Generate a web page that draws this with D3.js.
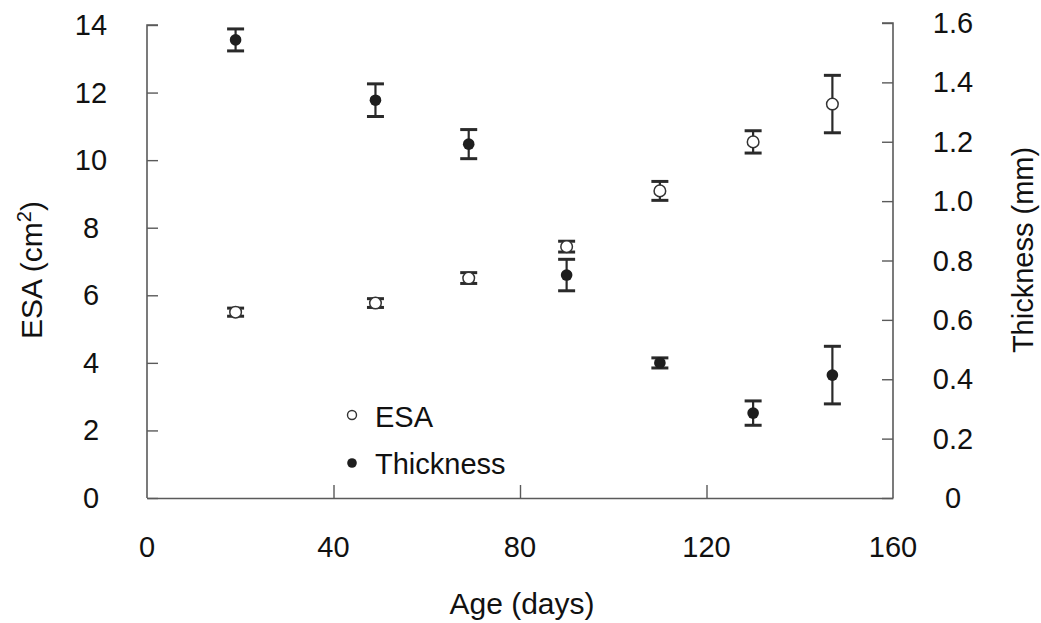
<!DOCTYPE html>
<html>
<head>
<meta charset="utf-8">
<script src="https://cdn.jsdelivr.net/npm/d3@7"></script>
<style>
  html, body { margin: 0; padding: 0; background: #fff; }
  svg text { font-family: "Liberation Sans", Arial, sans-serif; fill: #111; }
</style>
</head>
<body>
<svg id="chart" width="1041" height="623"></svg>
<script>
// Age of sampling (days)
const ages = [19, 49, 69, 90, 110, 130, 147];
// Effective surface area, cm^2 (mean and error)
const esa = [5.50, 5.77, 6.51, 7.44, 9.09, 10.54, 11.66];
const esaErr = [0.12, 0.13, 0.16, 0.16, 0.28, 0.33, 0.85];
// Thickness, mm (mean and error)
const thick = [1.543, 1.340, 1.192, 0.751, 0.455, 0.286, 0.414];
const thickErr = [0.037, 0.055, 0.049, 0.053, 0.017, 0.041, 0.097];

const xTicks = [0, 40, 80, 120, 160];
const esaTicks = [0, 2, 4, 6, 8, 10, 12, 14];
const thickTicks = [0, 0.2, 0.4, 0.6, 0.8, 1.0, 1.2, 1.4, 1.6];
const thickTickLabels = ["0", "0.2", "0.4", "0.6", "0.8", "1.0", "1.2", "1.4", "1.6"];

const svg = d3.select("#chart");
const axisColor = "#5a5a5a";
const markColor = "#1e1e1e";

const x = d3.scaleLinear().domain([0, 160]).range([147, 893]);
const yL = d3.scaleLinear().domain([0, 14]).range([498, 25]);
const yR = d3.scaleLinear().domain([0, 1.6]).range([498, 23]);

// Left axis (ESA), ticks pointing inward
const gL = svg.append("g").attr("transform", `translate(${x(0)},0)`)
  .call(d3.axisRight(yL).tickValues(esaTicks).tickSize(11).tickFormat(""));
// Right axis (thickness), ticks pointing inward
const gR = svg.append("g").attr("transform", `translate(${x(160)},0)`)
  .call(d3.axisLeft(yR).tickValues(thickTicks).tickSize(11).tickFormat(""));
// Bottom axis (age), ticks pointing up
const gB = svg.append("g").attr("transform", `translate(0,${yL(0)})`)
  .call(d3.axisTop(x).tickValues(xTicks.slice(1, -1)).tickSize(13).tickSizeOuter(0).tickFormat(""));

[gL, gR, gB].forEach(g => {
  g.select(".domain").attr("stroke", axisColor).attr("stroke-width", 1.6);
  g.selectAll(".tick line").attr("stroke", axisColor).attr("stroke-width", 1.4);
});
gL.select(".domain").attr("d", `M11,${yL(14)}H0V${yL(0)}H0`);
gR.select(".domain").attr("d", `M-11,${yR(1.6)}H0V${yR(0)}H0`);

// Tick labels
svg.append("g").selectAll("text").data(esaTicks).join("text")
  .attr("x", 91).attr("y", d => yL(d) + 10)
  .attr("text-anchor", "middle").attr("font-size", 29)
  .text(d => d);
svg.append("g").selectAll("text").data(thickTicks).join("text")
  .attr("x", 953).attr("y", d => yR(d) + 10)
  .attr("text-anchor", "middle").attr("font-size", 29)
  .text((d, i) => thickTickLabels[i]);
svg.append("g").selectAll("text").data(xTicks).join("text")
  .attr("x", d => x(d)).attr("y", 557)
  .attr("text-anchor", "middle").attr("font-size", 29)
  .text(d => d);

// Axis titles
svg.append("text").attr("x", 522).attr("y", 614)
  .attr("text-anchor", "middle").attr("font-size", 30).text("Age (days)");
const esaTitle = svg.append("text")
  .attr("transform", "translate(42,270) rotate(-90)")
  .attr("text-anchor", "middle").attr("font-size", 30);
esaTitle.append("tspan").text("ESA (cm");
esaTitle.append("tspan").attr("font-size", 20).attr("dy", -11).text("2");
esaTitle.append("tspan").attr("dy", 11).text(")");
svg.append("text")
  .attr("transform", "translate(1033,250) rotate(-90)")
  .attr("text-anchor", "middle").attr("font-size", 29).text("Thickness (mm)");

// Error bars with caps
function errorBars(vals, errs, y, cls) {
  const g = svg.append("g").attr("class", cls)
    .attr("stroke", "#2a2a2a").attr("fill", "none");
  const d = ages.map((a, i) => ({ a, v: vals[i], e: errs[i] }));
  g.selectAll("line.v").data(d).join("line").attr("class", "v")
    .attr("x1", p => x(p.a)).attr("x2", p => x(p.a))
    .attr("y1", p => y(p.v + p.e)).attr("y2", p => y(p.v - p.e))
    .attr("stroke-width", 2.2);
  ["+", "-"].forEach(s => {
    g.selectAll("line.c" + (s === "+" ? "t" : "b")).data(d).join("line")
      .attr("class", "c" + (s === "+" ? "t" : "b"))
      .attr("x1", p => x(p.a) - 8.5).attr("x2", p => x(p.a) + 8.5)
      .attr("y1", p => y(s === "+" ? p.v + p.e : p.v - p.e))
      .attr("y2", p => y(s === "+" ? p.v + p.e : p.v - p.e))
      .attr("stroke-width", 3);
  });
}
errorBars(esa, esaErr, yL, "esa-err");
errorBars(thick, thickErr, yR, "thick-err");

// ESA: open circles
svg.append("g").selectAll("circle").data(esa).join("circle")
  .attr("cx", (d, i) => x(ages[i])).attr("cy", d => yL(d)).attr("r", 5.8)
  .attr("fill", "#fff").attr("stroke", "#333").attr("stroke-width", 1.5);
// Thickness: filled circles
svg.append("g").selectAll("circle").data(thick).join("circle")
  .attr("cx", (d, i) => x(ages[i])).attr("cy", d => yR(d)).attr("r", 5.8)
  .attr("fill", markColor);

// Legend
const legend = svg.append("g");
legend.append("circle").attr("cx", 352).attr("cy", 415).attr("r", 4.5)
  .attr("fill", "#fff").attr("stroke", "#333").attr("stroke-width", 1.4);
legend.append("text").attr("x", 375).attr("y", 427).attr("font-size", 29).text("ESA");
legend.append("circle").attr("cx", 352).attr("cy", 463).attr("r", 4.8)
  .attr("fill", markColor);
legend.append("text").attr("x", 375).attr("y", 474).attr("font-size", 29).text("Thickness");
</script>
</body>
</html>
